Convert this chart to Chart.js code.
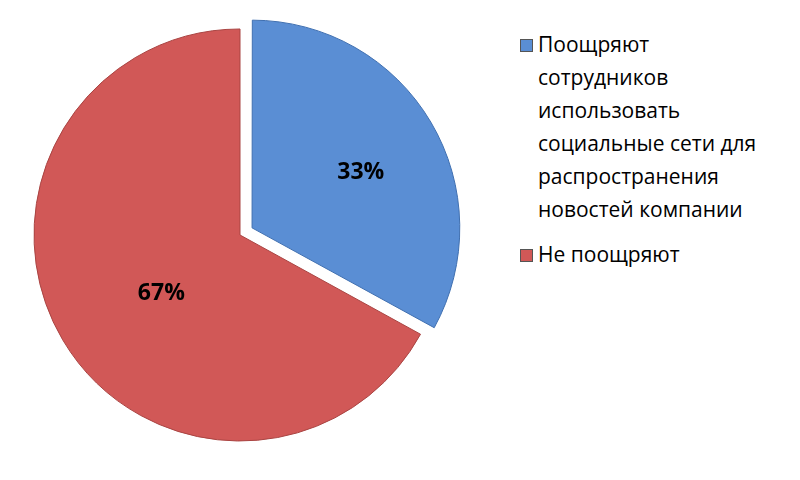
<!DOCTYPE html>
<html><head><meta charset="utf-8">
<script src="https://cdn.jsdelivr.net/npm/chart.js@4"></script>
<style>
body{margin:0;background:#fff;width:800px;height:480px;overflow:hidden;font-family:"Open Sans","Liberation Sans",sans-serif;}
#wrap{position:absolute;left:0;top:0;width:480px;height:470px;}
#legend{position:absolute;left:516px;top:28px;font-size:21px;line-height:33px;color:#000;}
.item{position:relative;padding-left:22px;margin-bottom:12px;}
.sw{position:absolute;left:4px;top:11px;width:11px;height:11px;border:1px solid #555;}
</style></head><body>
<div id="wrap"><canvas id="c"></canvas></div>
<div id="legend"></div>
<script>
const categories=["Поощряют сотрудников использовать социальные сети для распространения новостей компании","Не поощряют"];
const legendLines=[["Поощряют","сотрудников","использовать","социальные сети для","распространения","новостей компании"],["Не поощряют"]];
const values=[33,67];
const labels=["33%","67%"];
const colors=["#5A8ED4","#D15857"];
const lg=document.getElementById('legend');
legendLines.forEach((l,i)=>{const d=document.createElement('div');d.className='item';d.innerHTML='<span class="sw" style="background:'+colors[i]+'"></span>'+l.join('<br>');lg.appendChild(d);});
const lbl={id:'lbl',afterDatasetsDraw(ch){const ctx=ch.ctx;ch.getDatasetMeta(0).data.forEach((a,i)=>{const p=a.tooltipPosition();ctx.save();ctx.font='bold 23px "Open Sans", sans-serif';ctx.fillStyle='#000';ctx.textAlign='center';ctx.textBaseline='middle';ctx.fillText(labels[i],p.x+(i==0?8:10),p.y+(i==0?4:6));ctx.restore();});}};
new Chart(document.getElementById('c'),{type:'pie',data:{labels:categories,datasets:[{data:values,backgroundColor:colors,borderColor:['#3F6FB0','#A94442'],borderWidth:1,offset:[56,0]}]},
options:{responsive:true,maintainAspectRatio:false,animation:false,radius:206,layout:{padding:0},plugins:{legend:{display:false},tooltip:{enabled:false}}},plugins:[lbl]});
</script></body></html>
